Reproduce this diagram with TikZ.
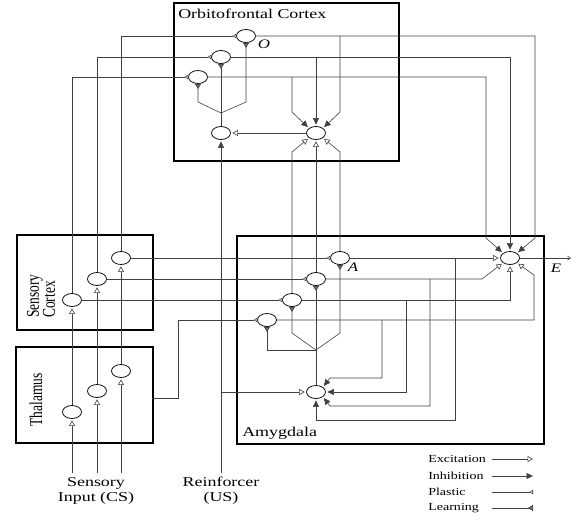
\documentclass[tikz,border=0pt]{standalone}
\usepackage{fontspec}
\setmainfont{Liberation Serif}
\usetikzlibrary{arrows.meta,shapes.geometric}
\begin{document}
\begin{tikzpicture}[x=1pt,y=-1pt,
  wire/.style={line width=0.6pt, draw=black!75},
  exc/.style={wire, -{Triangle[open,length=5.5pt,width=6pt,line width=0.6pt]}, shorten >=1.5pt},
  inh/.style={wire, -{Triangle[length=6.5pt,width=6pt]}, shorten >=1.5pt},
  plast/.style={wire, -{Triangle[open,reversed,length=3.5pt,width=4.5pt,line width=0.6pt]}},
  learn/.style={wire, -{Triangle[reversed,length=5pt,width=6pt,fill=black!55,line width=0.7pt]}},
  neuron/.style={draw, ellipse, minimum width=19pt, minimum height=13pt, inner sep=0pt, line width=0.75pt, fill=white},
  box/.style={draw, line width=1.7pt, inner sep=0pt, anchor=north west},
  lbl/.style={font=\fontsize{13.5}{15}\selectfont, inner sep=0pt, xscale=1.33},
  rlbl/.style={font=\fontsize{13.5}{12}\selectfont, inner sep=0pt, xscale=1.33, rotate=90},
  leg/.style={font=\fontsize{10.8}{12}\selectfont, inner sep=0pt, xscale=1.3, anchor=west},
  ital/.style={font=\fontsize{13}{14}\selectfont\itshape, inner sep=0pt, xscale=1.3}
]
\useasboundingbox (0,0) rectangle (576,520);

% boxes
\node[box, minimum width=225pt, minimum height=158pt] (ofcbox) at (173,2) {};
\node[box, minimum width=136pt, minimum height=95pt] (scbox) at (16,234) {};
\node[box, minimum width=137pt, minimum height=96pt] (thbox) at (15,346) {};
\node[box, minimum width=307pt, minimum height=208pt] (amybox) at (236,235) {};

% neurons
\node[neuron] (th1) at (72,412) {};
\node[neuron] (th2) at (97,391) {};
\node[neuron] (th3) at (121,371) {};
\node[neuron] (sc1) at (72,300) {};
\node[neuron] (sc2) at (97,279) {};
\node[neuron] (sc3) at (121,258) {};
\node[neuron] (ofO) at (246,36) {};
\node[neuron] (of2) at (221,57) {};
\node[neuron] (of3) at (198,77) {};
\node[neuron] (ofL) at (221,133) {};
\node[neuron] (ofR) at (316,133) {};
\node[neuron] (amA) at (340,258) {};
\node[neuron] (am2) at (316,279) {};
\node[neuron] (am3) at (292,300) {};
\node[neuron] (am4) at (267,320) {};
\node[neuron] (amL) at (316,392) {};
\node[neuron] (E) at (510,258) {};

% coordinates
\coordinate (in1) at (72,473);
\coordinate (in2) at (97,473);
\coordinate (in3) at (121,473);
\coordinate (us) at (221,473);
\coordinate (usb) at (221,392);
\coordinate (thout) at (152,398);
\coordinate (thc) at (178,320);
\coordinate (jOF) at (221,113);
\coordinate (jOFl) at (198,102);
\coordinate (jOFr) at (246,102);
\coordinate (bO) at (340,36);
\coordinate (bOd) at (340,112);
\coordinate (b2) at (316,57);
\coordinate (b3) at (292,77);
\coordinate (b3d) at (292,112);
\coordinate (eO) at (535,238);
\coordinate (e3) at (486,238);
\coordinate (uA) at (340,152);
\coordinate (u3) at (292,152);
\coordinate (c2) at (482,279);
\coordinate (c4) at (534,275);
\coordinate (bA) at (455,258);
\coordinate (cA) at (316,420);
\coordinate (b2a) at (430,279);
\coordinate (c2a) at (430,406);
\coordinate (c2b) at (330,406);
\coordinate (b3a) at (406,300);
\coordinate (b4a) at (382,320);
\coordinate (c4a) at (382,378);
\coordinate (c4b) at (330,378);
\coordinate (jAm) at (316,350);
\coordinate (jAml) at (292,333);
\coordinate (jAmr) at (340,333);
\coordinate (Eout) at (571,258);

% sensory input
\draw[exc] (in1) -- (th1.south);
\draw[exc] (in2) -- (th2.south);
\draw[exc] (in3) -- (th3.south);
\draw[exc] (th1.north) -- (sc1.south);
\draw[exc] (th2.north) -- (sc2.south);
\draw[exc] (th3.north) -- (sc3.south);
% sensory cortex to OFC
\draw[plast] (sc1.north) |- (of3.west);
\draw[plast] (sc2.north) |- (of2.west);
\draw[plast] (sc3.north) |- (ofO.west);
% sensory cortex to amygdala
\draw[plast] (sc1.east) -- (am3.west);
\draw[plast] (sc2.east) -- (am2.west);
\draw[plast] (sc3.east) -- (amA.west);
% thalamus to amygdala
\draw[plast] (thout) -| (thc) -- (am4.west);
% reinforcer
\draw[inh] (us) -- (ofL.south);
\draw[exc] (usb) -- (amL.west);
% OFC outputs
\draw[inh] (ofO.east) -| (eO) -- (E.north east);
\draw[inh] (of2.east) -| (E.north);
\draw[inh] (of3.east) -| (e3) -- (E.north west);
\draw[inh] (bO) -- (bOd) -- (ofR.north east);
\draw[inh] (b2) -- (ofR.north);
\draw[inh] (b3) -- (b3d) -- (ofR.north west);
\draw[exc] (ofR.west) -- (ofL.east);
\draw[wire] (ofL.north) -- (jOF);
\draw[learn] (jOF) -- (of2.south);
\draw[learn] (jOF) -- (jOFl) -- (of3.south);
\draw[learn] (jOF) -- (jOFr) -- (ofO.south);
% amygdala outputs
\draw[exc] (amA.east) -- (E.west);
\draw[exc] (am2.east) -- (c2) -- (E.south west);
\draw[exc] (am3.east) -| (E.south);
\draw[exc] (am4.east) -| (c4) -- (E.south east);
\draw[exc] (amA.north) -- (uA) -- (ofR.south east);
\draw[exc] (am2.north) -- (ofR.south);
\draw[exc] (am3.north) -- (u3) -- (ofR.south west);
\draw[inh] (bA) |- (cA) -- (amL.south);
\draw[inh] (b2a) -- (c2a) -- (c2b) -- (amL.south east);
\draw[inh] (b3a) |- (amL.east);
\draw[inh] (b4a) -- (c4a) -- (c4b) -- (amL.north east);
\draw[wire] (amL.north) -- (jAm);
\draw[learn] (jAm) -- (am2.south);
\draw[learn] (jAm) -- (jAml) -- (am3.south);
\draw[learn] (jAm) -- (jAmr) -- (amA.south);
\draw[learn] (jAm) -| (am4.south);
\draw[wire, -{Straight Barb[length=3pt,width=4pt]}] (E.east) -- (Eout);

% labels
\node[lbl, anchor=west] (tOFC) at (178,14) {Orbitofrontal Cortex};
\node[lbl, anchor=base west] (tAmy) at (242,436) {Amygdala};
\node[lbl, align=center] (tIn) at (96,491) {Sensory\\Input (CS)};
\node[lbl, align=center] (tUS) at (221,491) {Reinforcer\\(US)};
\node[rlbl, anchor=west, align=left] (tSC) at (41,318) {Sensory\\Cortex};
\node[rlbl] (tTh) at (36,400) {Thalamus};
\node[ital] (tO) at (264,44) {O};
\node[ital] (tA) at (353,267) {A};
\node[ital] (tE) at (556,268) {E};

% legend
\node[leg] (lg1) at (428,459) {Excitation};
\node[leg] (lg2) at (428,476) {Inhibition};
\node[leg] (lg3) at (428,492) {Plastic};
\node[leg] (lg4) at (428,508) {Learning};
\coordinate (l1s) at (492,459); \coordinate (l1e) at (533,459);
\coordinate (l2s) at (492,476); \coordinate (l2e) at (533,476);
\coordinate (l3s) at (492,492); \coordinate (l3e) at (533,492);
\coordinate (l4s) at (492,508); \coordinate (l4e) at (533,508);
\draw[exc, shorten >=0pt] (l1s) -- (l1e);
\draw[inh, shorten >=0pt] (l2s) -- (l2e);
\draw[plast] (l3s) -- (l3e);
\draw[learn] (l4s) -- (l4e);
\end{tikzpicture}
\end{document}
